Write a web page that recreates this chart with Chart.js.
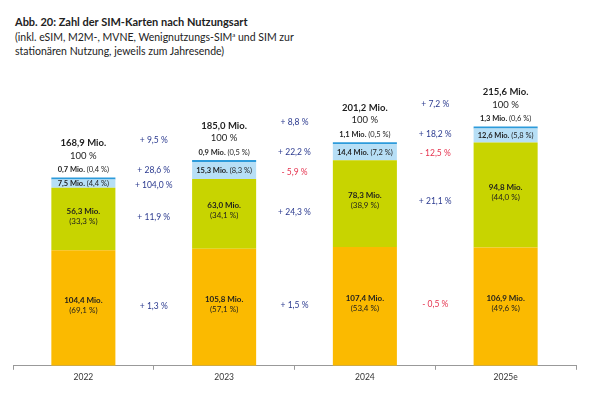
<!DOCTYPE html>
<html lang="de">
<head>
<meta charset="utf-8">
<script src="https://cdn.jsdelivr.net/npm/chart.js@4/dist/chart.umd.min.js"></script>
<style>
  body { margin: 0; background: #fff; }
  #wrap { position: relative; width: 600px; height: 393px; font-family: Lato, sans-serif; }
  #title { position: absolute; left: 15px; top: 15px; font-size: 10.5px; line-height: 14.5px; color: #222; }
  #title b { font-weight: bold; font-size: 11px; }
  #title sup { font-size: 6px; vertical-align: 4px; line-height: 0; }
  canvas { position: absolute; left: 0; top: 0; }
</style>
</head>
<body>
<div id="wrap">
  <div id="title">
    <b>Abb. 20: Zahl der SIM-Karten nach Nutzungsart</b><br>
    (inkl. eSIM, M2M-, MVNE, Wenignutzungs-SIM<sup>a</sup> und SIM zur<br>
    stationären Nutzung, jeweils zum Jahresende)
  </div>
  <canvas id="simChart" width="600" height="393"></canvas>
</div>
<script>
// Jahre und Werte in Mio.
const years = ['2022', '2023', '2024', '2025e'];
const activeSim = [104.4, 105.8, 107.4, 106.9];
const m2mSim = [56.3, 63.0, 78.3, 94.8];
const lowUseSim = [7.5, 15.3, 14.4, 12.6];
const stationarySim = [0.7, 0.9, 1.1, 1.3];
const totals = [168.9, 185.0, 201.2, 215.6];

// Anteile wie abgedruckt
const activeShare = ['69,1 %', '57,1 %', '53,4 %', '49,6 %'];
const m2mShare = ['33,3 %', '34,1 %', '38,9 %', '44,0 %'];
const lowUseShare = ['4,4 %', '8,3 %', '7,2 %', '5,8 %'];
const stationaryShare = ['0,4 %', '0,5 %', '0,5 %', '0,6 %'];

// Veränderung zum Vorjahr in %
const changeTotal = [9.5, 8.8, 7.2];
const changeStationary = [28.6, 22.2, 18.2];
const changeLowUse = [104.0, -5.9, -12.5];
const changeM2m = [11.9, 24.3, 21.1];
const changeActive = [1.3, 1.5, -0.5];

const FONT = 'Lato, sans-serif';

function fmt(v) {
    return v.toFixed(1).replace('.', ',');
}

function fmtChange(v) {
    return (v < 0 ? '- ' : '+ ') + fmt(Math.abs(v)) + ' %';
}

function drawPair(ctx, boldText, normalText, x, y, size) {
    ctx.font = `bold ${size}px ${FONT}`;
    const w1 = ctx.measureText(boldText + ' ').width;
    ctx.font = `${size}px ${FONT}`;
    const w2 = ctx.measureText(normalText).width;
    const start = x - (w1 + w2) / 2;
    ctx.textAlign = 'left';
    ctx.font = `bold ${size}px ${FONT}`;
    ctx.fillText(boldText, start, y);
    ctx.font = `${size}px ${FONT}`;
    ctx.fillText(normalText, start + w1, y);
}

function drawTwoLines(ctx, boldText, normalText, x, yMid, size) {
    ctx.textAlign = 'center';
    ctx.font = `bold ${size}px ${FONT}`;
    ctx.fillText(boldText, x, yMid - 5);
    ctx.font = `${size}px ${FONT}`;
    ctx.fillText(normalText, x, yMid + 5);
}

const labelPlugin = {
    id: 'simLabels',
    afterDatasetsDraw(chart) {
        const ctx = chart.ctx;
        const xScale = chart.scales.x;
        ctx.save();
        ctx.textBaseline = 'middle';
        ctx.fillStyle = '#222';

        const pos = years.map((y, i) => {
            const a = chart.getDatasetMeta(0).data[i];
            const m = chart.getDatasetMeta(1).data[i];
            const l = chart.getDatasetMeta(2).data[i];
            const s = chart.getDatasetMeta(3).data[i];
            return {
                x: a.x,
                active: (a.y + a.base) / 2 - 3,
                m2m: (m.y + m.base) / 2 - 3,
                lowUse: (l.y + l.base) / 2,
                top: s.y
            };
        });

        pos.forEach((p, i) => {
            ctx.fillStyle = '#1e1e1e';
            drawTwoLines(ctx, fmt(activeSim[i]) + ' Mio.', '(' + activeShare[i] + ')', p.x, p.active, 8);
            drawTwoLines(ctx, fmt(m2mSim[i]) + ' Mio.', '(' + m2mShare[i] + ')', p.x, p.m2m, 8);
            drawPair(ctx, fmt(lowUseSim[i]) + ' Mio.', '(' + lowUseShare[i] + ')', p.x, p.lowUse, 7.5);
            drawPair(ctx, fmt(stationarySim[i]) + ' Mio.', '(' + stationaryShare[i] + ')', p.x, p.top - 7.5, 7.5);

            ctx.textAlign = 'center';
            ctx.font = `${9.5}px ${FONT}`;
            ctx.fillText('100 %', p.x, p.top - 22);
            ctx.font = `bold ${9.5}px ${FONT}`;
            ctx.fillText(fmt(totals[i]) + ' Mio.', p.x, p.top - 34.5);
        });

        // Veränderungsraten zwischen den Jahren
        ctx.textAlign = 'center';
        ctx.font = `${8.5}px ${FONT}`;
        for (let i = 0; i < years.length - 1; i++) {
            const x = xScale.getPixelForValue(i + 0.5);
            const p = pos[i];
            const rows = [
                [changeTotal[i], p.top - 37.5],
                [changeStationary[i], p.top - 7.5],
                [changeLowUse[i], p.lowUse + 1.5],
                [changeM2m[i], p.m2m + 1],
                [changeActive[i], p.active + 1]
            ];
            rows.forEach(([v, y]) => {
                ctx.fillStyle = v < 0 ? '#e5334f' : '#2b3a8f';
                ctx.fillText(fmtChange(v), x, y);
            });
        }
        ctx.restore();
    }
};

const ctx = document.getElementById('simChart').getContext('2d');
const simChart = new Chart(ctx, {
    type: 'bar',
    data: {
        labels: years,
        datasets: [
            { label: 'aktiv', data: activeSim, backgroundColor: '#fbba00' },
            { label: 'M2M', data: m2mSim, backgroundColor: '#c8d400' },
            { label: 'Wenignutzung', data: lowUseSim, backgroundColor: '#b7dff6' },
            { label: 'stationär', data: stationarySim, backgroundColor: '#2d9bdb', minBarLength: 2 }
        ]
    },
    options: {
        responsive: false,
        animation: false,
        devicePixelRatio: 1,
        datasets: {
            bar: {
                barPercentage: 0.455,
                categoryPercentage: 1,
                borderWidth: 0
            }
        },
        layout: {
            padding: { top: 89, left: 13, right: 24, bottom: 9 }
        },
        plugins: {
            legend: { display: false },
            tooltip: { enabled: false }
        },
        scales: {
            x: {
                stacked: true,
                grid: {
                    display: true,
                    drawOnChartArea: false,
                    drawTicks: true,
                    tickLength: 4,
                    color: '#999',
                    offset: true
                },
                border: { display: true, color: '#999', width: 1 },
                ticks: {
                    color: '#333',
                    padding: 2,
                    font: { family: FONT, size: 8.5 }
                }
            },
            y: {
                stacked: true,
                display: false,
                min: 0,
                max: 250
            }
        }
    },
    plugins: [labelPlugin]
});
</script>
</body>
</html>
